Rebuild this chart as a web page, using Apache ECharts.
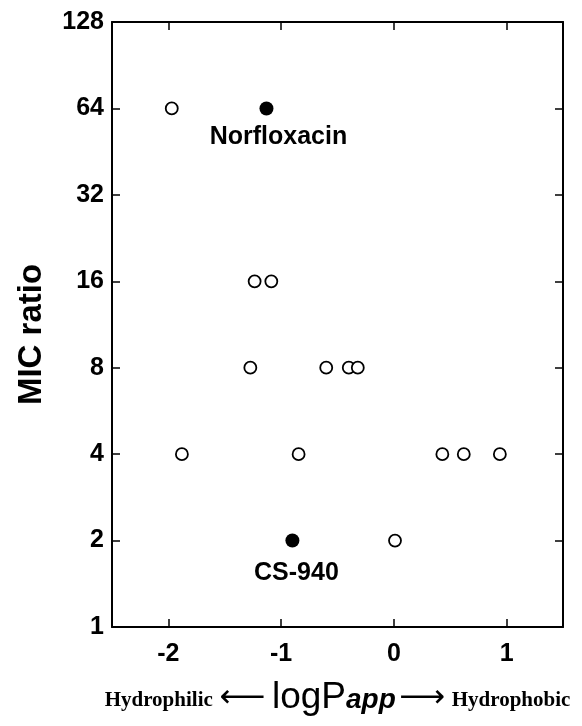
<!DOCTYPE html>
<html>
<head>
<meta charset="utf-8">
<script src="https://cdn.jsdelivr.net/npm/echarts@6/dist/echarts.min.js"></script>
<style>html,body{margin:0;padding:0;background:#fff;}#c{width:582px;height:726px;}</style>
</head>
<body>
<div id="c"></div>
<script>
// open circles (other compounds)
var openX = [-1.97, -1.235, -1.087, -1.273, -0.60, -0.40, -0.32, -1.88, -0.845, 0.43, 0.62, 0.94, 0.01];
var openY = [64, 16, 16, 8, 8, 8, 8, 4, 4, 4, 4, 4, 2];
// filled circles (named compounds)
var namedCompounds = ['Norfloxacin', 'CS-940'];
var namedX = [-1.13, -0.90];
var namedY = [64, 2];
var yTicks = [1, 2, 4, 8, 16, 32, 64, 128];
var xTicks = [-2, -1, 0, 1];

var chart = echarts.init(document.getElementById('c'));
var font = 'Liberation Sans, Arial, sans-serif';
var openData = openX.map(function (x, i) { return [x, openY[i]]; });
var namedData = namedX.map(function (x, i) {
  return { value: [x, namedY[i]], name: namedCompounds[i] };
});
var labelOffsets = [[12, 5], [4, 9]];
namedData.forEach(function (d, i) {
  d.label = { offset: labelOffsets[i] };
});

var tickX = { show: true, inside: true, length: 8, customValues: xTicks, lineStyle: { color: '#000', width: 1.5 } };
var tick = { show: true, inside: true, length: 8, lineStyle: { color: '#000', width: 1.5 } };
var line = { show: true, onZero: false, lineStyle: { color: '#000', width: 2 } };

chart.setOption({
  animation: false,
  backgroundColor: '#fff',
  grid: { left: 112, right: 19, top: 22, bottom: 99, containLabel: false, outerBoundsMode: 'none' },
  xAxis: [{
    type: 'value', min: -2.5, max: 1.5, interval: 0.5, position: 'bottom',
    axisLine: line, axisTick: tickX, splitLine: { show: false },
    axisLabel: {
      customValues: xTicks,
      color: '#000', fontFamily: font, fontWeight: 'bold', fontSize: 25, margin: 15,
      formatter: function (v) { return String(v); }
    },
    name: '{a|Hydrophilic}  {arr|\u27F5}  {b|logP}{c|app} {arr|\u27F6}  {a|Hydrophobic}',
    nameLocation: 'middle', nameGap: 52,
    nameTextStyle: {
      rich: {
        a: { fontFamily: 'Liberation Serif, Times New Roman, serif', fontWeight: 'bold', fontSize: 21, color: '#000', padding: [6, 0, 0, 0] },
        arr: { fontFamily: 'DejaVu Sans, sans-serif', fontSize: 32, color: '#000', padding: [2, 0, 0, 0] },
        b: { fontFamily: font, fontSize: 37, color: '#000' },
        c: { fontFamily: font, fontSize: 28, fontStyle: 'italic', fontWeight: 'bold', color: '#000', padding: [6, 0, 0, 0] }
      }
    }
  }, {
    type: 'value', min: -2.5, max: 1.5, interval: 0.5, position: 'top',
    axisLine: line, axisTick: tickX, axisLabel: { show: false }, splitLine: { show: false }
  }],
  yAxis: [{
    type: 'log', logBase: 2, min: 1, max: 128, position: 'left',
    axisLine: line, axisTick: tick, splitLine: { show: false },
    axisLabel: {
      color: '#000', fontFamily: font, fontWeight: 'bold', fontSize: 25, margin: 8,
      formatter: function (v) { return yTicks.indexOf(Math.round(v)) >= 0 ? String(Math.round(v)) : ''; }
    },
    name: 'MIC ratio', nameLocation: 'middle', nameGap: 64, nameRotate: 90,
    nameTextStyle: { color: '#000', fontFamily: font, fontWeight: 'bold', fontSize: 33, padding: [0, 20, 0, 0] }
  }, {
    type: 'log', logBase: 2, min: 1, max: 128, position: 'right',
    axisLine: line, axisTick: tick, axisLabel: { show: false }, splitLine: { show: false }
  }],
  series: [{
    type: 'scatter', data: openData, symbol: 'circle', symbolSize: 12,
    itemStyle: { color: '#fff', borderColor: '#000', borderWidth: 1.8, opacity: 1 },
    emphasis: { disabled: true }
  }, {
    type: 'scatter', data: namedData, symbol: 'circle', symbolSize: 14,
    itemStyle: { color: '#000', borderColor: '#000', borderWidth: 0, opacity: 1 },
    label: {
      show: true, position: 'bottom', distance: 4, formatter: '{b}',
      color: '#000', fontFamily: font, fontWeight: 'bold', fontSize: 25
    },
    emphasis: { disabled: true }
  }]
});
</script>
</body>
</html>
